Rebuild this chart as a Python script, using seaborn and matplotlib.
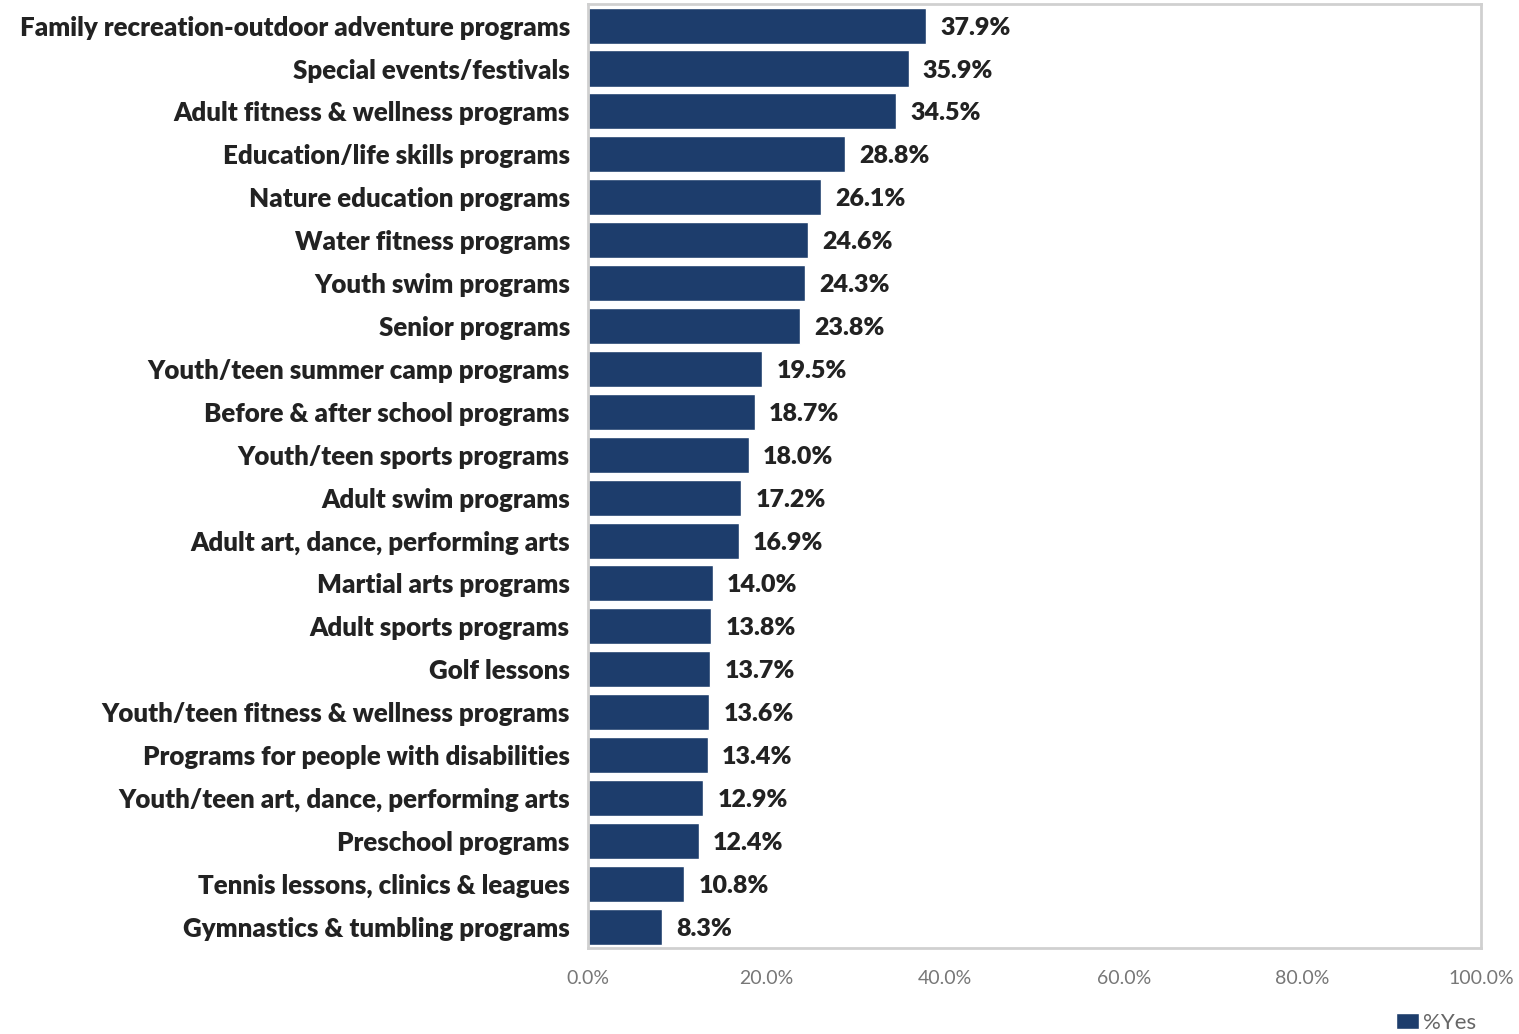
import matplotlib
matplotlib.use("Agg")
import matplotlib.pyplot as plt
import seaborn as sns
import pandas as pd
from matplotlib.patches import Patch

programs = [
    "Family recreation-outdoor adventure programs",
    "Special events/festivals",
    "Adult fitness & wellness programs",
    "Education/life skills programs",
    "Nature education programs",
    "Water fitness programs",
    "Youth swim programs",
    "Senior programs",
    "Youth/teen summer camp programs",
    "Before & after school programs",
    "Youth/teen sports programs",
    "Adult swim programs",
    "Adult art, dance, performing arts",
    "Martial arts programs",
    "Adult sports programs",
    "Golf lessons",
    "Youth/teen fitness & wellness programs",
    "Programs for people with disabilities",
    "Youth/teen art, dance, performing arts",
    "Preschool programs",
    "Tennis lessons, clinics & leagues",
    "Gymnastics & tumbling programs",
]
pct_yes = [37.9, 35.9, 34.5, 28.8, 26.1, 24.6, 24.3, 23.8, 19.5, 18.7, 18.0,
           17.2, 16.9, 14.0, 13.8, 13.7, 13.6, 13.4, 12.9, 12.4, 10.8, 8.3]
x_ticks = [0, 20, 40, 60, 80, 100]

df = pd.DataFrame({"program": programs, "pct": pct_yes})

sns.set_theme(style="white")
plt.rcParams["font.family"] = ["Lato", "DejaVu Sans"]

bar_color = "#1d3d6c"
fig = plt.figure(figsize=(15.19, 10.34), dpi=100)
ax = fig.add_axes([0.387, 0.083, 0.588, 0.913])

sns.barplot(data=df, x="pct", y="program", color=bar_color, width=0.84,
            saturation=1, ax=ax)

for i, v in enumerate(pct_yes):
    ax.text(v + 1.6, i, f"{v:.1f}%", va="center_baseline", ha="left",
            fontsize=18, fontweight="heavy", color="#222222")

ax.set_xlim(0, 100)
ax.set_ylim(len(programs) - 0.5, -0.5)
ax.set_xticks(x_ticks)
ax.set_xticklabels([f"{t:.1f}%" for t in x_ticks], fontsize=14, color="#777777")
ax.tick_params(axis="x", pad=16, length=0)
ax.tick_params(axis="y", length=0, pad=13)
for lbl in ax.get_yticklabels():
    lbl.set_fontsize(18.6)
    lbl.set_fontweight("heavy")
    lbl.set_color("#222222")
    lbl.set_va("center_baseline")
ax.set_xlabel("")
ax.set_ylabel("")
for sp in ax.spines.values():
    sp.set_visible(True)
    sp.set_color("#d0d0d0")
    sp.set_linewidth(2)

fig.legend(handles=[Patch(facecolor=bar_color, label="%Yes")],
           loc="lower right", bbox_to_anchor=(0.985, -0.018), frameon=False,
           fontsize=16, handlelength=1.0, handleheight=0.7, handletextpad=0.2,
           labelcolor="#666666")

fig.savefig("out.png", dpi=100, facecolor="white")
